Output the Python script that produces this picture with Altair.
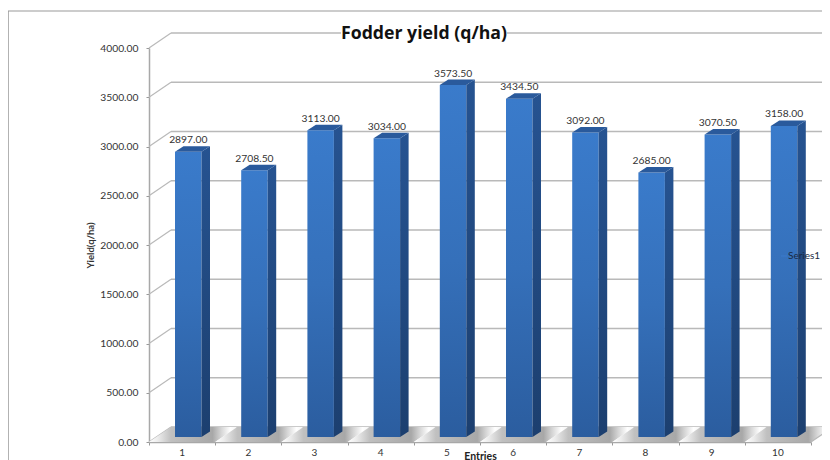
import altair as alt
import pandas as pd

entries = [1, 2, 3, 4, 5, 6, 7, 8, 9, 10]
yields = [2897.0, 2708.5, 3113.0, 3034.0, 3573.5, 3434.5, 3092.0, 2685.0, 3070.5, 3158.0]
ticks = [0, 500, 1000, 1500, 2000, 2500, 3000, 3500, 4000]
title = "Fodder yield (q/ha)"
y_title = "Yield(q/ha)"
x_title = "Entries"
series = "Series1"

FONT = "Lato"
PXX = 66.2
PXY = 394 / 4000
WALL_X = 22 / PXX
WALL_Y = 15 / PXY
BAR_L = 26 / PXX
BAR_W = 26.5 / PXX
BAR_BASE = 5 / PXY
DEPTH_X = 8.5 / PXX
DEPTH_Y = 5.5 / PXY

x_axis = alt.Axis(values=list(range(11)), labels=False, grid=False, tickSize=3, tickColor="#999999",
                  domainColor="#a8a8a8", domainWidth=1.5, title=x_title, titleFont=FONT, titleFontSize=10.5,
                  titleFontWeight="bold", titleColor="#222222", titleX=331, titleY=14,
                  titleBaseline="middle", titleAnchor="middle", titleAlign="center")
y_axis = alt.Axis(values=ticks, format=".2f", grid=False, tickSize=3, tickColor="#999999",
                  domainColor="#a8a8a8", domainWidth=1.5, labelFont=FONT, labelFontSize=10.3,
                  labelColor="#333333", labelPadding=8, title=y_title, titleFont=FONT, titleFontSize=9.5,
                  titleFontWeight="bold", titleColor="#333333", titleX=-59, titleY=197,
                  titleBaseline="middle", titleAnchor="middle", titleAlign="center")


def X(f="x"):
    return alt.X(f"{f}:Q", scale=alt.Scale(domain=[0, 10], nice=False, zero=False), axis=x_axis)


def Y(f="y"):
    return alt.Y(f"{f}:Q", scale=alt.Scale(domain=[0, 4000], nice=False, zero=False), axis=y_axis)


def grad(stops, horizontal=False):
    return alt.Gradient(gradient="linear",
                        stops=[alt.GradientStop(color=c, offset=o) for o, c in stops],
                        x1=0, y1=0, x2=1 if horizontal else 0, y2=0 if horizontal else 1)


# ---- tables derived from the named lists ----
grid_df = pd.DataFrame({"x": [WALL_X] * len(ticks), "x2": [10 + WALL_X] * len(ticks),
                        "y": [t + WALL_Y for t in ticks]})
conn_df = pd.DataFrame({"x": [0] * len(ticks), "x2": [WALL_X] * len(ticks),
                        "y": ticks, "y2": [t + WALL_Y for t in ticks]})
conn_r_df = pd.DataFrame({"x": [10], "x2": [10 + WALL_X], "y": [0], "y2": [WALL_Y]})
floor_rows = []
for i in range(10):
    for fx, up, lo in [(0, 0, 0), (WALL_X, WALL_Y, 0), (1, WALL_Y, 0), (1 + WALL_X, WALL_Y, WALL_Y)]:
        floor_rows.append({"e": i, "x": i + fx, "y": up, "y2": lo})
floor_df = pd.DataFrame(floor_rows)

front_df = pd.DataFrame({"x": [e - 1 + BAR_L for e in entries],
                         "x2": [e - 1 + BAR_L + BAR_W for e in entries],
                         "y": [v + BAR_BASE for v in yields],
                         "y2": [BAR_BASE] * len(yields)})
side_rows, top_rows = [], []
for e, v in zip(entries, yields):
    r = e - 1 + BAR_L + BAR_W
    l = e - 1 + BAR_L
    t = v + BAR_BASE
    side_rows += [{"e": e, "x": r, "y": t, "y2": BAR_BASE},
                  {"e": e, "x": r + DEPTH_X, "y": t + DEPTH_Y, "y2": BAR_BASE + DEPTH_Y}]
    top_rows += [{"e": e, "x": l, "y": t, "y2": t},
                 {"e": e, "x": l + DEPTH_X, "y": t + DEPTH_Y, "y2": t},
                 {"e": e, "x": r, "y": t + DEPTH_Y, "y2": t},
                 {"e": e, "x": r + DEPTH_X, "y": t + DEPTH_Y, "y2": t + DEPTH_Y}]
side_df = pd.DataFrame(side_rows)
top_df = pd.DataFrame(top_rows)
label_df = pd.DataFrame({"x": [e - 1 + BAR_L + BAR_W / 2 for e in entries],
                         "y": [v + BAR_BASE + DEPTH_Y for v in yields],
                         "t": [f"{v:.2f}" for v in yields]})
xlab_df = pd.DataFrame({"x": [e - 0.5 for e in entries], "y": [0] * 10, "t": [str(e) for e in entries]})

# ---- layers ----
base = alt.Chart(pd.DataFrame({"x": [0, 10], "y": [0, 4000]})).mark_point(opacity=0).encode(x=X(), y=Y())

frame_df = pd.DataFrame({"a": [0]})
frame_top = alt.Chart(frame_df).mark_rule(color="#999999", strokeWidth=1).encode(
    x=alt.value(-141), x2=alt.value(690), y=alt.value(-37))
frame_left = alt.Chart(frame_df).mark_rule(color="#999999", strokeWidth=1.5).encode(
    x=alt.value(-141), y=alt.value(-37), y2=alt.value(420))

grid = alt.Chart(grid_df).mark_rule(color="#b9b9b9", strokeWidth=1.5).encode(x=X(), x2="x2:Q", y=Y())
conn = alt.Chart(conn_df).mark_rule(color="#b9b9b9", strokeWidth=1.2).encode(x=X(), x2="x2:Q", y=Y(), y2="y2:Q")
conn_r = alt.Chart(conn_r_df).mark_rule(color="#b9b9b9", strokeWidth=1.2).encode(x=X(), x2="x2:Q", y=Y(), y2="y2:Q")
floor = alt.Chart(floor_df).mark_area(
    color=grad([(0, "#ffffff"), (0.1, "#ececec"), (0.25, "#c0c0c0"), (0.72, "#a8a8a8"), (0.82, "#d6d6d6"),
                (0.92, "#ffffff"), (1, "#f4f4f4")], horizontal=True)
).encode(x=X(), y=Y(), y2="y2:Q", detail="e:N")

front = alt.Chart(front_df).mark_rect(
    color=grad([(0, "#3a7bcb"), (0.5, "#3570ba"), (1, "#2b5d9f")])
).encode(x=X(), x2="x2:Q", y=Y(), y2="y2:Q")
side = alt.Chart(side_df).mark_area(
    color=grad([(0, "#265391"), (1, "#1c3f6f")])
).encode(x=X(), y=Y(), y2="y2:Q", detail="e:N")
top = alt.Chart(top_df).mark_area(color="#2a5a9c").encode(x=X(), y=Y(), y2="y2:Q", detail="e:N")

labels = alt.Chart(label_df).mark_text(font=FONT, fontSize=10.3, color="#333333", baseline="bottom", dy=-1).encode(
    x=X(), y=Y(), text="t:N")
xlabels = alt.Chart(xlab_df).mark_text(font=FONT, fontSize=10, color="#333333", baseline="middle", dy=11).encode(
    x=X(), y=Y(), text="t:N")

title_bg = alt.Chart(frame_df).mark_rect(color="white").encode(
    x=alt.value(192), x2=alt.value(358), y=alt.value(-22), y2=alt.value(-6))
title_mark = alt.Chart(pd.DataFrame({"t": [title]})).mark_text(
    font="Open Sans", fontSize=17.7, fontWeight="bold", color="#111111", align="center", baseline="middle"
).encode(x=alt.value(275), y=alt.value(-14), text="t:N")

legend_tick = alt.Chart(frame_df).mark_rule(color="#3a7bcb", strokeWidth=1).encode(
    x=alt.value(632), x2=alt.value(638), y=alt.value(208))
legend_text = alt.Chart(pd.DataFrame({"t": [series]})).mark_text(
    font=FONT, fontSize=10, color="#1a2a44", align="left", baseline="middle"
).encode(x=alt.value(639), y=alt.value(208), text="t:N")

chart = alt.layer(
    base, frame_top, frame_left, grid, conn, floor, conn_r, front, side, top,
    labels, xlabels, title_bg, title_mark, legend_tick, legend_text
).properties(
    width=662, height=394,
    padding={"left": 141, "top": 40, "right": 11, "bottom": 18},
    autosize=alt.AutoSizeParams(type="none"),
).configure_view(stroke=None)

chart.save("out.html", embed_options={"renderer": "svg", "actions": False})
